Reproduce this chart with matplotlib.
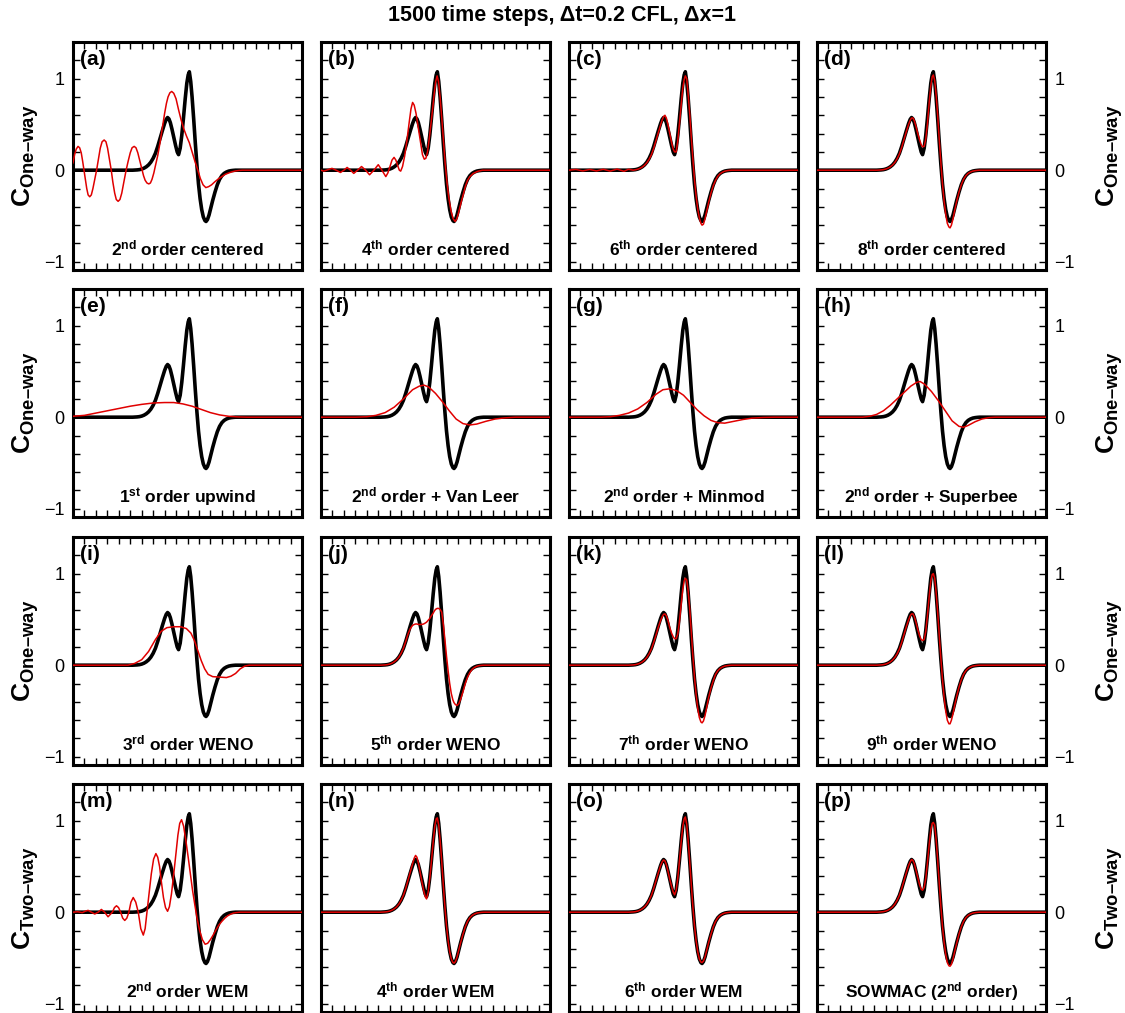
import numpy as np
import matplotlib.pyplot as plt
from matplotlib.ticker import MultipleLocator

plt.rcParams['font.family'] = ['Liberation Sans', 'DejaVu Sans']
plt.rcParams['mathtext.fontset'] = 'custom'
plt.rcParams['mathtext.rm'] = 'Liberation Sans'
plt.rcParams['mathtext.bf'] = 'Liberation Sans:bold'

# x in percent of the domain width
# shared grid for the exact solution and the schemes that stay close to it
grid_x = [0, 26, 28, 29, 30, 31, 32, 33, 34, 35,
          36, 37, 38, 39, 40, 40.7, 41.3, 41.9, 42.5, 43.2,
          44, 44.8, 45.5, 46.1, 46.8, 47.5, 48.2, 49, 49.7, 50.3,
          50.8, 51.4, 52, 52.7, 53.4, 54.1, 54.8, 55.5, 56.2, 56.9,
          57.6, 58.1, 58.7, 59.4, 60.2, 61, 62, 63, 64, 65,
          66, 67, 68, 69, 70, 71, 100]

# exact solution (black)
exact_y = [0, 0, 0.003, 0.006, 0.012, 0.022, 0.037, 0.058, 0.088, 0.13,
           0.185, 0.26, 0.345, 0.43, 0.51, 0.555, 0.575, 0.56, 0.52, 0.45,
           0.36, 0.27, 0.2, 0.17, 0.24, 0.38, 0.56, 0.78, 0.95, 1.04,
           1.075, 0.97, 0.8, 0.56, 0.3, 0.06, -0.15, -0.31, -0.43, -0.51,
           -0.55, -0.56, -0.54, -0.49, -0.41, -0.33, -0.24, -0.16, -0.1, -0.06,
           -0.035, -0.02, -0.01, -0.005, -0.002, 0, 0]

# numerical solutions (red)
red_a_x = [0, 0.7, 1.4, 2.2, 2.9, 3.6, 4.2, 4.8, 5.4, 6.0, 6.6, 7.3, 8.0, 8.7, 9.5, 10.3, 11.1, 11.9, 12.7,
           13.6, 14.4, 15.1, 15.9, 16.7, 17.4, 18.2, 18.9, 19.7, 20.5, 21.3, 22.2, 23.2, 24.1, 25.0, 25.8,
           26.7, 27.5, 28.3, 29.2, 30.0, 30.8, 31.5, 32.3, 33.1, 33.8, 34.5, 35.3, 36.0, 37.0, 38.0, 39.0,
           40.0, 40.8, 41.5, 42.3, 43.1, 44.0, 45.0, 46.1, 47.2, 48.4, 49.6, 50.8, 52.0, 53.2, 54.5, 55.6,
           56.8, 58.0, 59.2, 60.5, 62, 63.5, 65, 66.5, 68, 69.5, 71, 72.5, 74, 100]
red_a_y = [0.08, 0.17, 0.23, 0.26, 0.245, 0.19, 0.1, 0.0, -0.1, -0.2, -0.27, -0.29, -0.27, -0.2, -0.1, 0.0, 0.12,
           0.24, 0.31, 0.33, 0.31, 0.24, 0.12, 0.0, -0.13, -0.25, -0.32, -0.34, -0.32, -0.25, -0.13, 0.0, 0.1,
           0.19, 0.245, 0.26, 0.245, 0.19, 0.1, 0.02, -0.06, -0.11, -0.14, -0.15, -0.14, -0.1, -0.03, 0.05,
           0.16, 0.3, 0.46, 0.62, 0.73, 0.8, 0.845, 0.86, 0.84, 0.78, 0.66, 0.55, 0.45, 0.37, 0.3, 0.2, 0.1,
           0.0, -0.09, -0.16, -0.19, -0.18, -0.16, -0.125, -0.095, -0.07, -0.045, -0.03, -0.017, -0.008,
           -0.003, 0, 0]

red_b_x = [0, 1.2, 3.0, 4.8, 6.6, 8.5, 10.0, 11.4, 12.9, 14.3, 16.0, 17.7, 19.5, 21.2, 23.1, 25.0, 26.6, 28.3,
           29.2, 30.0, 31.0, 31.9, 32.7, 33.5, 34.2, 34.8, 35.6, 36.5, 37.5, 38.5, 39.3, 40.0, 40.7, 41.5,
           42.5, 43.5, 44.3, 45.1, 45.8, 46.5, 47.3, 48.0, 48.8, 49.5, 50.1, 50.7, 51.3, 52.0, 52.7, 53.5,
           54.2, 55.0, 55.8, 56.8, 57.7, 58.6, 59.3, 60.0, 60.8, 61.5, 62.3, 63.0, 64, 65, 66.5, 68.5, 70.5, 100]
red_b_y = [0.0, -0.01, 0.005, 0.02, 0.0, -0.025, 0.0, 0.03, 0.0, -0.035, 0.0, 0.04, 0.0, -0.05, 0.0, 0.06, 0.0,
           -0.07, -0.03, 0.03, 0.11, 0.14, 0.11, 0.05, 0.0, -0.01, 0.04, 0.15, 0.32, 0.52, 0.67, 0.74, 0.71,
           0.62, 0.46, 0.3, 0.17, 0.12, 0.13, 0.2, 0.35, 0.5, 0.68, 0.85, 0.97, 1.03, 0.97, 0.8, 0.58, 0.32,
           0.08, -0.13, -0.3, -0.45, -0.53, -0.56, -0.53, -0.47, -0.39, -0.32, -0.25, -0.18, -0.11, -0.07,
           -0.035, -0.012, 0, 0]

red_c_x = [0, 3, 6, 9, 12, 15, 18, 21, 24] + grid_x[1:]
red_c_y = [0, 0.008, -0.008, 0.008, -0.008, 0.01, -0.01, 0.012, -0.012,
           0.01, 0.0, 0.004, 0.01, 0.02, 0.034, 0.054, 0.082, 0.12, 0.17,
           0.24, 0.325, 0.41, 0.495, 0.55, 0.585, 0.6, 0.57, 0.5, 0.4,
           0.3, 0.23, 0.2, 0.2, 0.32, 0.5, 0.72, 0.9, 0.99, 1.03,
           1.0, 0.84, 0.62, 0.36, 0.12, -0.1, -0.28, -0.42, -0.52, -0.58,
           -0.6, -0.59, -0.53, -0.44, -0.35, -0.25, -0.17, -0.11, -0.065, -0.038,
           -0.022, -0.011, -0.005, -0.002, 0, 0]

red_d_y = [0, 0, 0.003, 0.006, 0.012, 0.022, 0.036, 0.056, 0.085, 0.125,
           0.178, 0.25, 0.335, 0.42, 0.5, 0.545, 0.57, 0.57, 0.54, 0.48,
           0.4, 0.33, 0.28, 0.255, 0.26, 0.34, 0.5, 0.74, 0.92, 1.02,
           1.04, 0.98, 0.83, 0.6, 0.33, 0.08, -0.15, -0.34, -0.48, -0.58,
           -0.62, -0.63, -0.6, -0.53, -0.43, -0.34, -0.24, -0.16, -0.1, -0.06,
           -0.035, -0.02, -0.01, -0.005, -0.002, 0, 0]

red_e_x = [0, 5, 10, 15, 20, 25, 30, 35, 40, 44, 48, 52, 56, 60, 64, 68, 72, 76, 100]
red_e_y = [0.01, 0.02, 0.045, 0.07, 0.095, 0.12, 0.14, 0.155, 0.16, 0.16, 0.145, 0.12, 0.085, 0.05, 0.025,
           0.01, 0.003, 0, 0]

red_f_x = [0, 15, 20, 24, 28, 32, 36, 40, 43, 45, 47, 50, 53, 56, 59, 62, 65, 68, 72, 76, 80, 85, 100]
red_f_y = [0, 0, 0.005, 0.02, 0.05, 0.11, 0.2, 0.3, 0.34, 0.35, 0.33, 0.26, 0.17, 0.07, -0.02, -0.07, -0.085,
           -0.075, -0.045, -0.02, -0.008, 0, 0]

red_g_x = [0, 14, 18, 22, 26, 30, 34, 38, 41, 44, 47, 50, 53, 56, 59, 62, 65, 68, 72, 76, 80, 85, 90, 100]
red_g_y = [0, 0, 0.005, 0.02, 0.045, 0.09, 0.16, 0.25, 0.3, 0.31, 0.29, 0.24, 0.16, 0.08, 0.015, -0.035, -0.06,
           -0.065, -0.045, -0.025, -0.01, -0.003, 0, 0]

red_h_x = [0, 20, 23, 26, 29, 32, 35, 38, 41, 43.5, 45, 47, 50, 53, 56, 59, 62, 64, 66, 69, 72, 75, 78, 100]
red_h_y = [0, 0, 0.01, 0.03, 0.07, 0.13, 0.2, 0.27, 0.34, 0.38, 0.39, 0.36, 0.28, 0.18, 0.07, -0.04, -0.1, -0.11,
           -0.09, -0.05, -0.02, -0.005, 0, 0]

red_i_x = [0, 24, 27, 30, 33, 36, 38.5, 41, 44, 47, 49.5, 51.5, 53, 54.5, 56, 57.5, 59, 61, 64, 67, 69, 71,
           73, 75, 77, 100]
red_i_y = [0, 0, 0.02, 0.06, 0.15, 0.28, 0.37, 0.41, 0.42, 0.42, 0.4, 0.35, 0.27, 0.16, 0.05, -0.04, -0.1,
           -0.125, -0.13, -0.135, -0.12, -0.09, -0.04, -0.01, 0, 0]

red_j_y = [0, 0, 0.003, 0.006, 0.012, 0.022, 0.037, 0.058, 0.088, 0.13,
           0.185, 0.26, 0.34, 0.4, 0.435, 0.445, 0.45, 0.45, 0.445, 0.445,
           0.445, 0.45, 0.46, 0.47, 0.49, 0.51, 0.54, 0.57, 0.6, 0.615,
           0.62, 0.62, 0.61, 0.58, 0.45, 0.28, 0.1, -0.06, -0.2, -0.31,
           -0.38, -0.41, -0.43, -0.44, -0.42, -0.37, -0.29, -0.2, -0.13, -0.08,
           -0.045, -0.025, -0.012, -0.005, -0.002, 0, 0]

red_k_y = [0, 0, 0.003, 0.006, 0.012, 0.022, 0.036, 0.056, 0.085, 0.125,
           0.178, 0.25, 0.33, 0.415, 0.49, 0.53, 0.555, 0.56, 0.54, 0.49,
           0.41, 0.35, 0.31, 0.29, 0.29, 0.34, 0.47, 0.67, 0.83, 0.92,
           0.95, 0.93, 0.82, 0.62, 0.36, 0.1, -0.13, -0.32, -0.47, -0.57,
           -0.62, -0.63, -0.61, -0.55, -0.45, -0.35, -0.25, -0.17, -0.1, -0.06,
           -0.035, -0.02, -0.01, -0.005, -0.002, 0, 0]

red_l_y = [0, 0, 0.003, 0.006, 0.012, 0.022, 0.036, 0.056, 0.085, 0.125,
           0.178, 0.25, 0.335, 0.42, 0.495, 0.54, 0.56, 0.56, 0.53, 0.47,
           0.39, 0.32, 0.28, 0.27, 0.28, 0.37, 0.53, 0.75, 0.92, 0.99,
           1.0, 0.95, 0.8, 0.58, 0.32, 0.07, -0.16, -0.35, -0.5, -0.6,
           -0.64, -0.64, -0.6, -0.53, -0.43, -0.34, -0.24, -0.16, -0.1, -0.06,
           -0.035, -0.02, -0.01, -0.005, -0.002, 0, 0]

red_m_x = [0, 2, 4, 5.3, 6.6, 8, 9.5, 11, 12.4, 13.8, 15.3, 17.2, 18.1, 19, 19.9, 20.8, 21.7, 22.6, 23.5,
           24.4, 25.3, 26.3, 27.4, 28.5, 29.6, 30.7, 31.5, 32.3, 33.2, 34.2, 35.2, 36.2, 37.0, 37.8, 38.6,
           39.5, 40.4, 41.3, 42.1, 43.0, 44.0, 45.0, 45.8, 46.6, 47.4, 48.3, 49.3, 50.3, 51.3, 52.2, 53.2,
           54.2, 55.3, 56.5, 57.7, 58.8, 60, 61.2, 62.5, 63.7, 65, 66.3, 67.5, 68.8, 70, 71.5, 73, 100]
red_m_y = [0, 0.005, -0.005, 0.01, 0.02, 0.0, -0.02, 0.0, 0.03, 0.0, -0.05, 0.0, 0.05, 0.07, 0.05, 0.0, -0.065,
           -0.09, -0.065, 0.0, 0.11, 0.16, 0.11, 0.0, -0.18, -0.25, -0.18, 0.0, 0.2, 0.42, 0.58, 0.64, 0.6,
           0.5, 0.33, 0.16, 0.05, 0.01, 0.06, 0.2, 0.42, 0.65, 0.84, 0.97, 1.01, 0.94, 0.78, 0.6, 0.41, 0.24,
           0.08, -0.07, -0.2, -0.3, -0.35, -0.34, -0.3, -0.25, -0.19, -0.14, -0.1, -0.065, -0.04, -0.022,
           -0.01, -0.004, 0, 0]

red_n_y = [0, 0, 0.003, 0.006, 0.012, 0.022, 0.037, 0.058, 0.088, 0.13,
           0.185, 0.26, 0.35, 0.44, 0.53, 0.59, 0.62, 0.6, 0.54, 0.45,
           0.34, 0.24, 0.17, 0.145, 0.22, 0.37, 0.55, 0.77, 0.94, 1.02,
           1.03, 0.95, 0.79, 0.56, 0.3, 0.06, -0.15, -0.31, -0.43, -0.51,
           -0.55, -0.556, -0.54, -0.49, -0.41, -0.33, -0.24, -0.16, -0.1, -0.06,
           -0.035, -0.02, -0.01, -0.005, -0.002, 0, 0]

red_o_y = [0, 0, 0.003, 0.006, 0.012, 0.022, 0.037, 0.058, 0.088, 0.13,
           0.185, 0.26, 0.345, 0.43, 0.51, 0.55, 0.57, 0.56, 0.52, 0.45,
           0.36, 0.28, 0.22, 0.19, 0.24, 0.37, 0.55, 0.77, 0.94, 1.02,
           1.04, 0.96, 0.79, 0.56, 0.3, 0.06, -0.15, -0.31, -0.43, -0.51,
           -0.545, -0.55, -0.535, -0.49, -0.41, -0.33, -0.24, -0.16, -0.1, -0.06,
           -0.035, -0.02, -0.01, -0.005, -0.002, 0, 0]

red_p_y = [0, 0, 0.003, 0.006, 0.012, 0.022, 0.037, 0.058, 0.088, 0.13,
           0.185, 0.26, 0.345, 0.43, 0.51, 0.55, 0.575, 0.565, 0.53, 0.46,
           0.38, 0.3, 0.25, 0.24, 0.27, 0.37, 0.53, 0.74, 0.9, 0.97,
           0.98, 0.95, 0.8, 0.57, 0.31, 0.06, -0.16, -0.33, -0.46, -0.55,
           -0.585, -0.59, -0.57, -0.51, -0.42, -0.34, -0.24, -0.16, -0.1, -0.06,
           -0.035, -0.02, -0.01, -0.005, -0.002, 0, 0]

panel_tags = ['(a)', '(b)', '(c)', '(d)', '(e)', '(f)', '(g)', '(h)',
              '(i)', '(j)', '(k)', '(l)', '(m)', '(n)', '(o)', '(p)']
scheme_names = [r'$\mathbf{2^{nd}}$ order centered', r'$\mathbf{4^{th}}$ order centered',
                r'$\mathbf{6^{th}}$ order centered', r'$\mathbf{8^{th}}$ order centered',
                r'$\mathbf{1^{st}}$ order upwind', r'$\mathbf{2^{nd}}$ order + Van Leer',
                r'$\mathbf{2^{nd}}$ order + Minmod', r'$\mathbf{2^{nd}}$ order + Superbee',
                r'$\mathbf{3^{rd}}$ order WENO', r'$\mathbf{5^{th}}$ order WENO',
                r'$\mathbf{7^{th}}$ order WENO', r'$\mathbf{9^{th}}$ order WENO',
                r'$\mathbf{2^{nd}}$ order WEM', r'$\mathbf{4^{th}}$ order WEM',
                r'$\mathbf{6^{th}}$ order WEM', r'SOWMAC ($\mathbf{2^{nd}}$ order)']
row_labels = ['$\\mathbf{C}_{\\mathbf{One\u2013way}}$'] * 3 + ['$\\mathbf{C}_{\\mathbf{Two\u2013way}}$']

red_series = [(red_a_x, red_a_y), (red_b_x, red_b_y), (red_c_x, red_c_y), (grid_x, red_d_y),
              (red_e_x, red_e_y), (red_f_x, red_f_y), (red_g_x, red_g_y), (red_h_x, red_h_y),
              (red_i_x, red_i_y), (grid_x, red_j_y), (grid_x, red_k_y), (grid_x, red_l_y),
              (red_m_x, red_m_y), (grid_x, red_n_y), (grid_x, red_o_y), (grid_x, red_p_y)]

W, H = 1125, 1013
fig = plt.figure(figsize=(W / 100, H / 100), dpi=100)

col_left = [73, 321, 569, 817]
row_top = [42, 289, 537, 784]
pw, ph = 229, 228

for k in range(16):
    r, c = divmod(k, 4)
    ax = fig.add_axes([col_left[c] / W, 1 - (row_top[r] + ph) / H, pw / W, ph / H])
    ax.plot(grid_x, exact_y, color='black', lw=2.6, zorder=2)
    ax.plot(red_series[k][0], red_series[k][1], color='#e00000', lw=1.1, zorder=3)
    ax.set_xlim(0, 100)
    ax.set_ylim(-1.09, 1.4)
    ax.xaxis.set_major_locator(MultipleLocator(5))
    ax.yaxis.set_major_locator(MultipleLocator(1))
    ax.yaxis.set_minor_locator(MultipleLocator(0.2))
    ax.tick_params(which='both', direction='in', top=True, right=True, length=5, width=1,
                   labelbottom=False, labelsize=13, pad=6)
    ax.tick_params(axis='y', labelleft=(c == 0), labelright=(c == 3))
    for s in ax.spines.values():
        s.set_linewidth(2.2)
    if c == 0:
        ax.set_ylabel(row_labels[r], fontsize=19, labelpad=2)
    elif c == 3:
        ax.yaxis.set_label_position('right')
        ax.set_ylabel(row_labels[r], fontsize=19, labelpad=14)
    ax.text(0.03, 0.965, panel_tags[k], transform=ax.transAxes, ha='left', va='top',
            fontsize=15, fontweight='bold')
    ax.text(0.5, 0.062, scheme_names[k], transform=ax.transAxes, ha='center', va='baseline',
            fontsize=12.5, fontweight='bold')

fig.text(0.5, 1 - 16 / H, '1500 time steps, \u0394t=0.2 CFL, \u0394x=1',
         ha='center', va='center', fontsize=15.5, fontweight='bold')

fig.savefig('out.png', dpi=100)
